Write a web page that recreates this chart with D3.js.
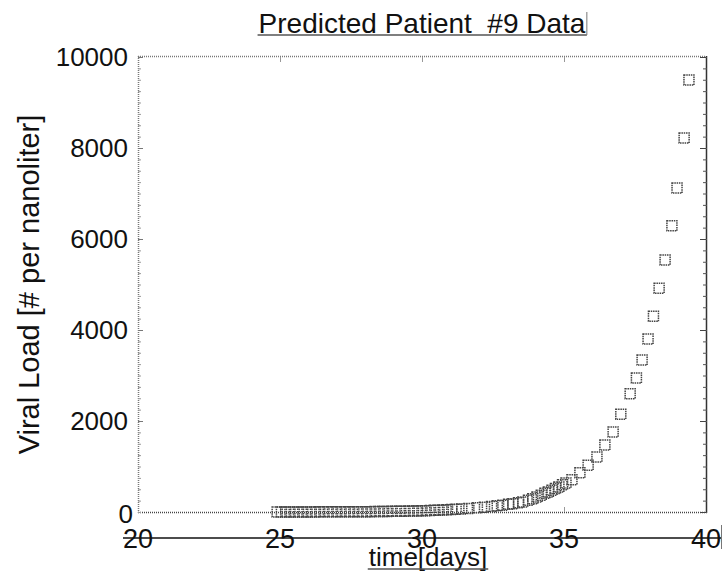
<!DOCTYPE html>
<html><head><meta charset="utf-8">
<script src="https://cdn.jsdelivr.net/npm/d3@7"></script>
<style>
html,body{margin:0;padding:0;background:#fff;}
svg{display:block;}
text{font-family:"Liberation Sans",Arial,Helvetica,sans-serif;fill:#111;}
</style></head>
<body>
<svg id="c" width="726" height="587"></svg>
<script>
// ---- data ----
const title = "Predicted Patient  #9 Data";
const xLabel = "time[days]";
const yLabel = "Viral Load [# per nanoliter]";
const xTicks = [20, 25, 30, 35, 40];
const yTicks = [0, 2000, 4000, 6000, 8000, 10000];
const days = [24.9, 25.05, 25.2, 25.35, 25.5, 25.65, 25.8, 25.95, 26.1, 26.25,
  26.4, 26.55, 26.7, 26.85, 27.0, 27.15, 27.3, 27.45, 27.6, 27.75,
  27.9, 28.05, 28.2, 28.35, 28.5, 28.65, 28.8, 28.95, 29.1, 29.25,
  29.4, 29.55, 29.7, 29.85, 30.0, 30.15, 30.3, 30.45, 30.6, 30.75,
  30.9, 31.05, 31.2, 31.4, 31.65, 31.95, 32.2, 32.45, 32.65, 32.85,
  33.05, 33.2, 33.4, 33.55, 33.75, 33.9, 34.05, 34.2, 34.33, 34.45,
  34.58, 34.7, 34.82, 34.95, 35.07, 35.28, 35.56, 35.85, 36.16, 36.44,
  36.73, 37.0, 37.33, 37.55, 37.75, 37.96, 38.15, 38.35, 38.56, 38.8,
  38.98, 39.23, 39.4];
const viralLoad = [1, 1, 1, 1, 1, 2, 2, 2, 2, 2,
  3, 3, 3, 4, 4, 4, 5, 5, 6, 6,
  7, 8, 8, 9, 10, 11, 12, 14, 15, 17,
  18, 20, 22, 24, 27, 30, 33, 36, 40, 44,
  48, 53, 59, 66, 78, 92, 105, 120, 135, 150,
  168, 182, 205, 222, 260, 290, 330, 370, 410, 440,
  480, 515, 550, 600, 640, 710, 860, 1030, 1210, 1470,
  1760, 2150, 2600, 2945, 3340, 3800, 4300, 4920, 5540, 6290,
  7120, 8220, 9495];

// ---- layout ----
const svg = d3.select("#c");
const L = 138, R = 706, T = 57, B = 512;
const x = d3.scaleLinear().domain([20, 40]).range([L, R]);
const y = d3.scaleLinear().domain([0, 10000]).range([B, T]);

// frame
const g = svg.append("g");
g.append("line").attr("x1", L).attr("x2", R).attr("y1", T - 0.5).attr("y2", T - 0.5)
  .attr("stroke", "#777").attr("stroke-width", 1.5).attr("stroke-dasharray", "1,1");
g.append("line").attr("x1", L + 0.5).attr("x2", L + 0.5).attr("y1", T - 1).attr("y2", B + 1)
  .attr("stroke", "#777").attr("stroke-width", 1.5).attr("stroke-dasharray", "1,1");
g.append("line").attr("x1", L).attr("x2", R + 1).attr("y1", B + 0.5).attr("y2", B + 0.5)
  .attr("stroke", "#444").attr("stroke-width", 1.5).attr("stroke-dasharray", "1,1");
g.append("line").attr("x1", R + 0.5).attr("x2", R + 0.5).attr("y1", T - 1).attr("y2", B + 1)
  .attr("stroke", "#333").attr("stroke-width", 1.5);

// minor ticks on left and right
const minor = d3.range(0, 10001, 250);
g.selectAll(".mr").data(minor).join("line")
  .attr("x1", R - 3).attr("x2", R + 1).attr("y1", d => y(d) + 0.5).attr("y2", d => y(d) + 0.5)
  .attr("stroke", "#555").attr("stroke-width", 1);
g.selectAll(".ml").data(minor).join("line")
  .attr("x1", L).attr("x2", L + 3).attr("y1", d => y(d) + 0.5).attr("y2", d => y(d) + 0.5)
  .attr("stroke", "#999").attr("stroke-width", 1);
// major ticks on right and left
g.selectAll(".Mr").data(yTicks).join("line")
  .attr("x1", R - 6).attr("x2", R).attr("y1", d => y(d) + 0.5).attr("y2", d => y(d) + 0.5)
  .attr("stroke", "#444").attr("stroke-width", 1);
g.selectAll(".Ml").data(yTicks.slice(1)).join("line")
  .attr("x1", L).attr("x2", L + 5).attr("y1", d => y(d) + 0.5).attr("y2", d => y(d) + 0.5)
  .attr("stroke", "#777").attr("stroke-width", 1);
// small x ticks on top and bottom
const innerX = xTicks.slice(1, -1);
g.selectAll(".xtop").data(innerX).join("line")
  .attr("x1", d => x(d) + 0.5).attr("x2", d => x(d) + 0.5).attr("y1", T).attr("y2", T + 5)
  .attr("stroke", "#999").attr("stroke-width", 1);
g.selectAll(".xbot").data(innerX).join("line")
  .attr("x1", d => x(d) + 0.5).attr("x2", d => x(d) + 0.5).attr("y1", B - 5).attr("y2", B)
  .attr("stroke", "#999").attr("stroke-width", 1);

// y tick labels
svg.selectAll(".yt").data(yTicks).join("text")
  .attr("x", d => d === 0 ? 133 : 128)
  .attr("y", d => y(d) + (d === 0 ? 2 : 0))
  .attr("dy", "0.36em")
  .attr("text-anchor", "end")
  .attr("font-size", 26)
  .text(d => d);

// x tick labels with strike line
const xtY = 548;
svg.append("line").attr("x1", 123).attr("x2", 721).attr("y1", 538).attr("y2", 538)
  .attr("stroke", "#111").attr("stroke-width", 1.5);
svg.selectAll(".xt").data(xTicks).join("text")
  .attr("x", d => x(d))
  .attr("y", xtY)
  .attr("text-anchor", "middle")
  .attr("font-size", 27)
  .text(d => d);
svg.append("line").attr("x1", 721.5).attr("x2", 721.5).attr("y1", 525).attr("y2", 549)
  .attr("stroke", "#777").attr("stroke-width", 1);

// title
const tt = svg.append("text").attr("x", (L + R) / 2).attr("y", 33)
  .attr("text-anchor", "middle").attr("font-size", 28)
  .attr("xml:space", "preserve").style("white-space", "pre").text(title);
const tb = tt.node().getBBox();
svg.append("line").attr("x1", tb.x - 1).attr("x2", tb.x + tb.width + 1)
  .attr("y1", 35).attr("y2", 35).attr("stroke", "#555").attr("stroke-width", 1.5);
svg.append("line").attr("x1", tb.x + tb.width + 1).attr("x2", tb.x + tb.width + 1)
  .attr("y1", 12).attr("y2", 35).attr("stroke", "#777").attr("stroke-width", 1);

// x label
const xl = svg.append("text").attr("x", 428).attr("y", 566)
  .attr("text-anchor", "middle").attr("font-size", 26).text(xLabel);
const xb = xl.node().getBBox();
svg.append("line").attr("x1", xb.x - 1).attr("x2", xb.x + xb.width + 1)
  .attr("y1", 569).attr("y2", 569).attr("stroke", "#555").attr("stroke-width", 1.5);

// y label
svg.append("text").attr("transform", `translate(29,${(T + B) / 2}) rotate(-90)`)
  .attr("dy", "0.35em").attr("text-anchor", "middle").attr("font-size", 29).text(yLabel);

// data squares
const pts = days.map((d, i) => ({ t: d, v: viralLoad[i] }));
const s = 10;
svg.append("g").selectAll("rect").data(pts).join("rect")
  .attr("x", d => x(d.t) - s / 2).attr("y", d => y(d.v) - s / 2)
  .attr("width", s).attr("height", s)
  .attr("fill", "none").attr("stroke", "#444").attr("stroke-width", 1.5)
  .attr("stroke-dasharray", "1.5,0.8");
</script>
</body></html>
